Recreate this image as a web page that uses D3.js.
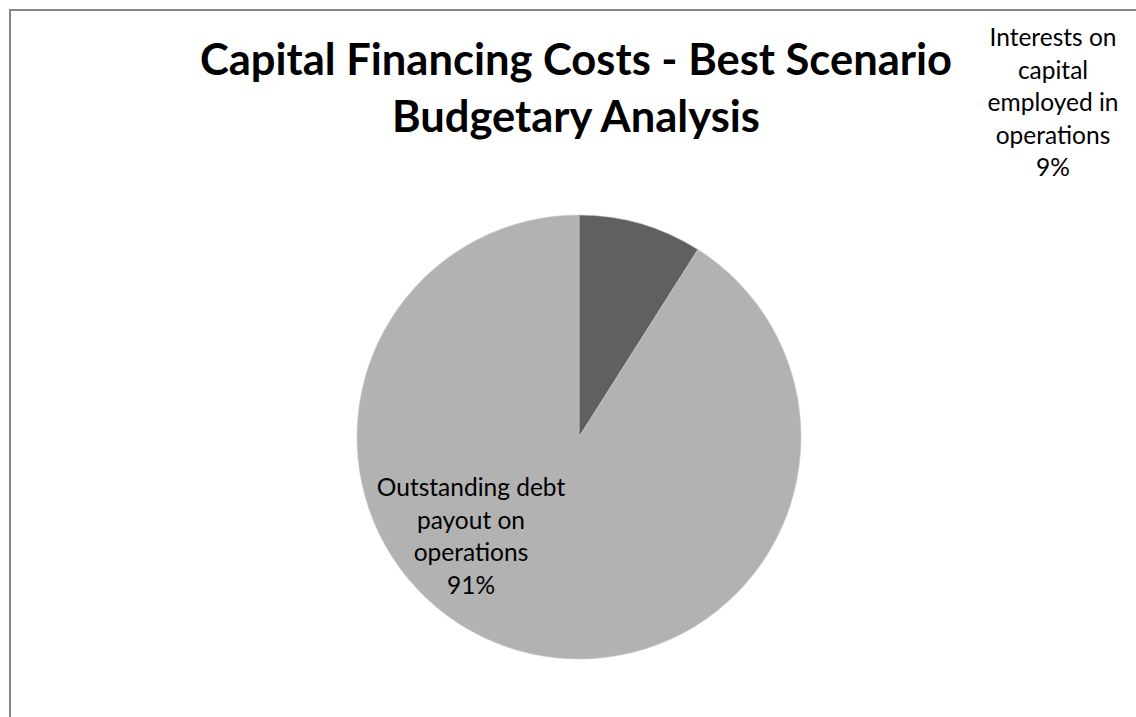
<!DOCTYPE html>
<html>
<head>
<meta charset="utf-8">
<script src="https://cdn.jsdelivr.net/npm/d3@7"></script>
<style>
  html, body { margin: 0; padding: 0; background: #fff; }
  svg { display: block; }
</style>
</head>
<body>
<svg id="chart" width="1136" height="717"></svg>
<script>
// Budget split of capital financing costs (best scenario)
const categories = [
  "Interests on capital employed in operations",
  "Outstanding debt payout on operations"
];
const values = [9, 91];
const sliceColors = ["#606060", "#b2b2b2"];
// Wrapped label lines per category (the percentage line is appended)
const labelLines = [
  ["Interests on", "capital", "employed in", "operations"],
  ["Outstanding debt", "payout on", "operations"]
];
const titleLines = ["Capital Financing Costs - Best Scenario", "Budgetary Analysis"];

const svg = d3.select("#chart");
const W = 1136, H = 717;
const FONT = "Lato, 'Open Sans', sans-serif";

// chart area frame (extends beyond the right/bottom of the view)
svg.append("rect")
  .attr("x", 10).attr("y", 10)
  .attr("width", W + 20).attr("height", H + 20)
  .attr("fill", "#fff")
  .attr("stroke", "#868686")
  .attr("stroke-width", 2);

// title
const title = svg.append("g").attr("font-family", FONT)
  .attr("font-weight", "bold").attr("fill", "#000")
  .attr("text-anchor", "middle");
titleLines.forEach((t, i) => {
  title.append("text")
    .attr("x", 576).attr("y", 75 + i * 57)
    .attr("font-size", 43.5)
    .text(t);
});

// pie
const cx = 579, cy = 437, r = 222;
const total = d3.sum(values);
const pie = d3.pie().sort(null).value(d => d.value);
const arcs = pie(categories.map((c, i) => ({ name: c, value: values[i], i })));
const arc = d3.arc().innerRadius(0).outerRadius(r);
const color = d3.scaleOrdinal().domain(categories).range(sliceColors);

const g = svg.append("g").attr("transform", `translate(${cx},${cy})`);
g.selectAll("path").data(arcs).join("path")
  .attr("d", arc)
  .attr("fill", d => color(d.data.name))
  .attr("stroke", "#c8c8c8")
  .attr("stroke-width", 0.6);

// data labels
const fmt = d3.format(".0%");
const labelPos = [
  { x: 1053, y: 46 },   // outside, upper right
  { x: 471, y: 496 }    // inside the large slice
];
const lineH = 32.5;
arcs.forEach((a, i) => {
  const lines = labelLines[i].concat([fmt(a.data.value / total)]);
  const t = svg.append("text")
    .attr("font-family", FONT)
    .attr("font-size", 24.5)
    .attr("fill", "#000")
    .attr("text-anchor", "middle");
  lines.forEach((ln, k) => {
    t.append("tspan")
      .attr("x", labelPos[i].x)
      .attr("y", labelPos[i].y + k * lineH)
      .text(ln);
  });
});
</script>
</body>
</html>
